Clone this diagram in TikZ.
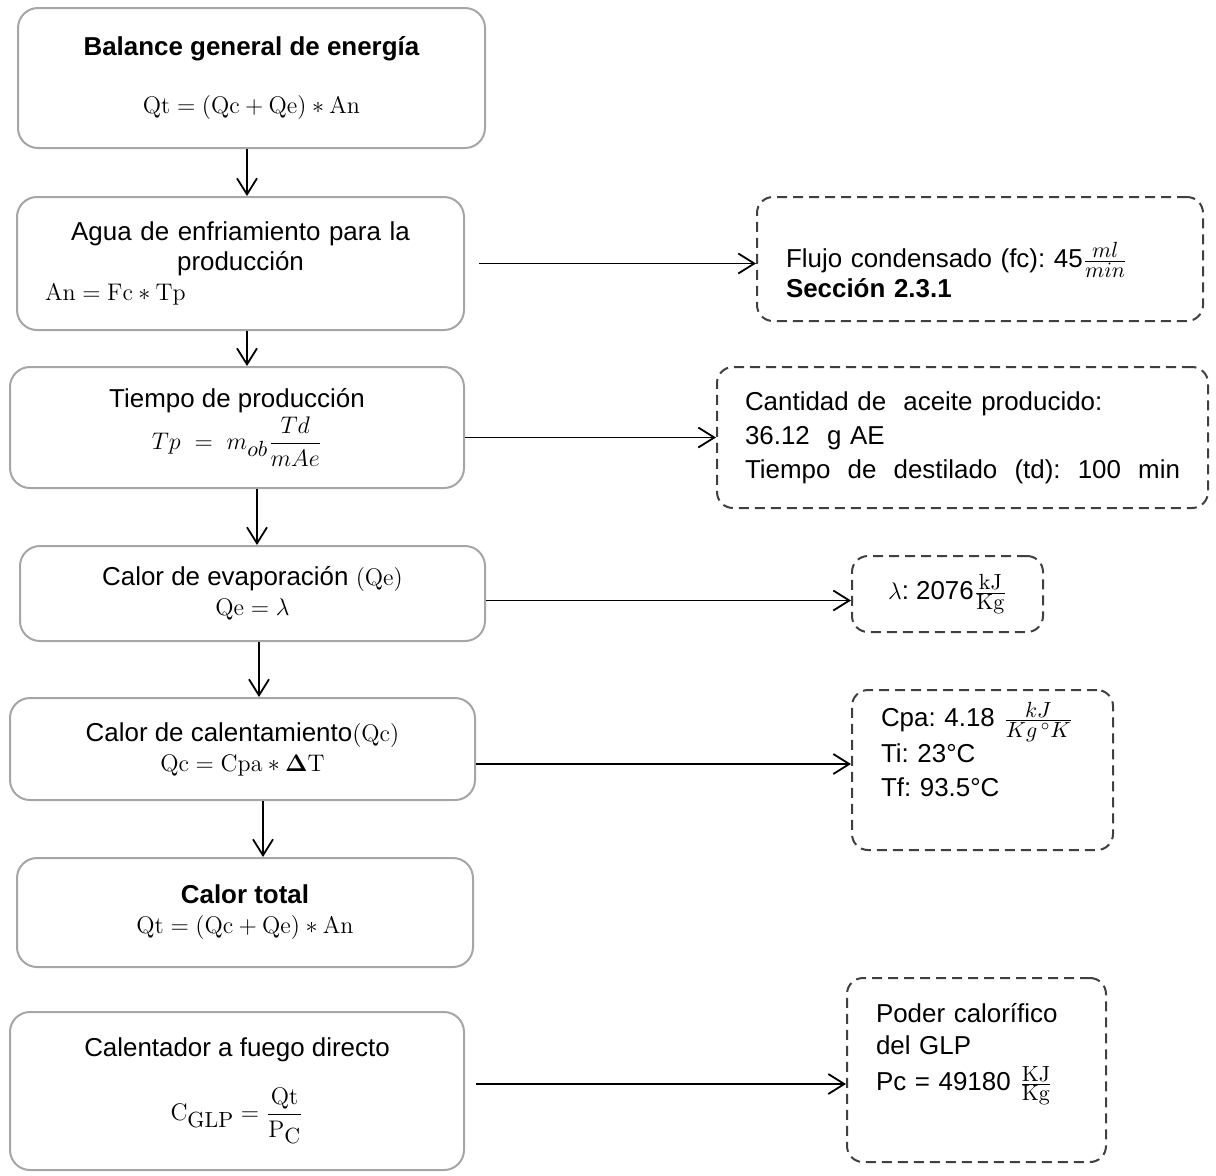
\documentclass[tikz,border=0pt]{standalone}
\usepackage[no-math]{fontspec}
\setmainfont{Liberation Sans}[Scale=1.08]
\usepackage{amsmath}
\DeclareMathSizes{12}{12}{10.5}{8}
\usepackage{xcolor}
\definecolor{gry00}{HTML}{A6A6A6}
\definecolor{gry01}{HTML}{404040}
\usepackage{tikz}
\usetikzlibrary{arrows.meta}
\tikzstyle{calc_box} = [rectangle, rounded corners=10pt, draw=gry00, line width=1pt, align=center, inner sep=0pt]
\tikzstyle{data_box} = [rectangle, rounded corners=8pt, draw=gry01, line width=1pt, dash pattern=on 5pt off 3pt, align=left, inner xsep=14.5pt, inner ysep=0pt]
\tikzstyle{flow_arr} = [line width=0.9pt, -{Straight Barb[length=8pt,width=10pt]}]

\begin{document}
\begin{tikzpicture}[x=0.5pt,y=-0.5pt,font=\fontsize{12}{15}\selectfont\frenchspacing]
        \useasboundingbox (0,0) rectangle (1216,1175);
        % calculation steps
        \node (s1)[calc_box,minimum width=233.5pt,minimum height=70pt] at (251.5,78)
            {\textbf{Balance general de energía}\\[14pt]$\mathrm{Qt}=(\mathrm{Qc}+\mathrm{Qe})*\mathrm{An}$};
        \node (s2)[calc_box,minimum width=223.5pt,minimum height=66.5pt,text width=195.5pt] at (240.5,263.5)
            {Agua de enfriamiento para la\\producción\\\makebox[195.5pt][l]{$\mathrm{An}=\mathrm{Fc}*\mathrm{Tp}$}};
        \node (s3)[calc_box,minimum width=227pt,minimum height=60.5pt] at (237,427.5)
            {Tiempo de producción\\[1pt]$Tp\ =\ m_{ob}\dfrac{Td}{mAe}$};
        \node (s4)[calc_box,minimum width=232.5pt,minimum height=47.5pt] at (252.5,593.5)
            {Calor de evaporación $(\mathrm{Qe})$\\$\mathrm{Qe}=\lambda$};
        \node (s5)[calc_box,minimum width=232.5pt,minimum height=51pt] at (242.5,749)
            {Calor de calentamiento$(\mathrm{Qc})$\\$\mathrm{Qc}=\mathrm{Cpa}*\mathbf{\Delta}\mathrm{T}$};
        \node (s6)[calc_box,minimum width=228pt,minimum height=54.5pt] at (245,912.5)
            {\textbf{Calor total}\\$\mathrm{Qt}=(\mathrm{Qc}+\mathrm{Qe})*\mathrm{An}$};
        \node (s7)[calc_box,minimum width=227pt,minimum height=79pt] at (237,1091)
            {Calentador a fuego directo\\[12pt]$\mathrm{C}_{\mathrm{GLP}}=\dfrac{\mathrm{Qt}}{\mathrm{P}_{\mathrm{C}}}$};
        % data
        \node (d1)[data_box,minimum width=223pt,minimum height=62pt,text width=194pt] at (980,259)
            {\lineskiplimit=-10pt\mbox{}\\[8.5pt]Flujo condensado (fc): 45$\frac{ml}{min}$\\[0pt]\textbf{Sección 2.3.1}};
        \node (d2)[data_box,inner xsep=14pt,minimum width=245.5pt,minimum height=70.5pt,text width=217.5pt] at (962.5,437.5)
            {Cantidad de~ aceite producido:\\[2pt]36.12~ g AE\\[2pt]\makebox[217.5pt][l]{Tiempo\hfill de\hfill destilado\hfill (td):\hfill 100\hfill min}};
        \node (d3)[data_box,minimum width=95.5pt,minimum height=38pt,inner xsep=0pt] at (947.5,594)
            {$\lambda$: 2076$\frac{\mathrm{kJ}}{\mathrm{Kg}}$};
        \node (d4)[data_box,minimum width=130.5pt,minimum height=80pt,text width=101.5pt] at (982.5,770)
            {Cpa: 4.18 $\frac{kJ}{Kg\,^{\circ}K}$\\Ti: 23°C\\[2pt]Tf: 93.5°C\\[6pt]\mbox{}};
        \node (d5)[data_box,minimum width=129.5pt,minimum height=92pt,text width=100.5pt] at (976.5,1070)
            {Poder calorífico\\[1pt]del GLP\\[3pt]Pc = 49180 $\frac{\mathrm{KJ}}{\mathrm{Kg}}$\\[8pt]\mbox{}};
        % connectors
        \draw [flow_arr] ([xshift=-2.25pt]s1.south) -- ([xshift=-2.25pt]s1.south |- s2.north);
        \draw [flow_arr] ([xshift=3.25pt]s2.south) -- ([xshift=3.25pt]s2.south |- s3.north);
        \draw [flow_arr] ([xshift=10pt]s3.south) -- ([xshift=10pt]s3.south |- s4.north);
        \draw [flow_arr] ([xshift=3.25pt]s4.south) -- ([xshift=3.25pt]s4.south |- s5.north);
        \draw [flow_arr] ([xshift=10.25pt]s5.south) -- ([xshift=10.25pt]s5.south |- s6.north);
        \draw [flow_arr] ([xshift=7pt]s2.east) -- (s2.east -| d1.west);
        \draw [flow_arr] (d2.west -| s3.east) -- (d2.west);
        \draw [flow_arr] ([yshift=-3.5pt]s4.east) -- ([yshift=-3.5pt]s4.east -| d3.west);
        \draw [flow_arr] ([yshift=-7.5pt]s5.east) -- ([yshift=-7.5pt]s5.east -| d4.west);
        \draw [flow_arr] ([xshift=5.5pt,yshift=3.5pt]s7.east) -- ([yshift=3.5pt]s7.east -| d5.west);
    \end{tikzpicture}
\end{document}
